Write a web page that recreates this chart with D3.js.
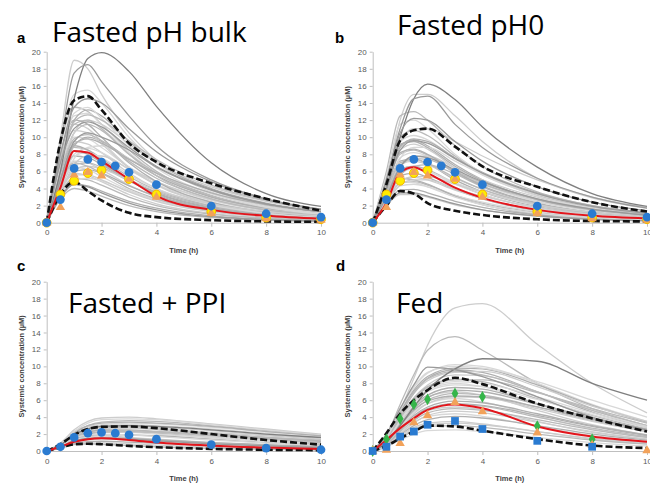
<!DOCTYPE html>
<html>
<head>
<meta charset="utf-8">
<script src="https://cdn.jsdelivr.net/npm/d3@7/dist/d3.min.js"></script>
<style>
  html, body { margin: 0; padding: 0; background: #fff; }
  svg { display: block; }
  .tick text { font-family: "Liberation Sans", Arial, sans-serif; font-size: 8px; fill: #595959; }
  .axis path, .axis line { stroke: #bfbfbf; }
  .axis-title { font-family: "Liberation Sans", Arial, sans-serif; font-weight: bold; font-size: 7.5px; fill: #404040; }
  .letter { font-family: "Liberation Sans", Arial, sans-serif; font-weight: bold; font-size: 15px; }
  .title { font-family: "Open Sans", sans-serif; font-size: 28px; fill: #000; }
</style>
</head>
<body>
<div id="chart"></div>
<script>
// simulated time grid (h), shared by every simulated curve
const T = [0, 0.5, 1, 1.5, 2, 3, 4, 6, 8, 10];

// ---- panel a: fasted pH bulk ----
const aMedian = [0, 4.1, 8.4, 8.2, 7.2, 5.1, 3.1, 1.5, 0.8, 0.45];
const aUpper  = [0, 9.5, 14.3, 14.8, 13.2, 9.3, 7.1, 4.6, 2.8, 1.4];
const aLower  = [0, 3.3, 4.8, 3.7, 2.6, 1.15, 0.65, 0.3, 0.15, 0.1];
const aDark = [
  [0, 6, 14.5, 19.2, 19.9, 17.7, 13.6, 7.0, 3.4, 1.9],
  [0, 9, 17.5, 18.5, 16.5, 12.5, 9.0, 5.0, 2.8, 1.6],
  [0, 8, 13.5, 14.5, 14.0, 11.0, 8.3, 4.8, 2.7, 1.5],
  [0, 5, 9.5, 10.5, 10.0, 8.5, 6.5, 3.8, 2.2, 1.3],
  [0, 3, 4.5, 4.2, 3.5, 2.3, 1.5, 0.7, 0.35, 0.2],
  [0, 7, 11, 11.8, 11.2, 8.8, 6.6, 3.9, 2.2, 1.3]
];
const aLight = [
  [0, 10, 19.0, 18.0, 15.0, 10.5, 7.3, 3.8, 2.0, 1.1],
  [0, 9, 13.5, 13.0, 11.5, 8.5, 6.0, 3.2, 1.7, 0.9],
  [0, 8, 12.5, 12.8, 11.5, 8.2, 5.8, 3.0, 1.6, 0.9],
  [0, 7, 12, 13.2, 12.5, 9.5, 7.0, 4.0, 2.3, 1.3],
  [0, 7.5, 11.5, 11, 9.5, 6.5, 4.5, 2.3, 1.2, 0.7],
  [0, 6, 10.5, 11.5, 10.8, 8.0, 5.8, 3.1, 1.7, 1.0],
  [0, 6.5, 10, 9.8, 8.8, 6.5, 4.8, 2.6, 1.4, 0.8],
  [0, 5, 9, 10, 9.5, 7.5, 5.5, 3.0, 1.7, 1.0],
  [0, 6, 9.5, 9.2, 8.2, 5.8, 4.0, 2.0, 1.0, 0.6],
  [0, 5.5, 8.8, 8.5, 7.5, 5.4, 3.8, 2.0, 1.1, 0.6],
  [0, 4.5, 8, 8.7, 8.2, 6.2, 4.5, 2.4, 1.3, 0.7],
  [0, 5, 7.8, 7.6, 6.8, 4.9, 3.4, 1.7, 0.9, 0.5],
  [0, 4.8, 7.2, 7.0, 6.2, 4.4, 3.0, 1.5, 0.8, 0.45],
  [0, 4, 6.8, 7.0, 6.5, 4.9, 3.6, 1.9, 1.0, 0.6],
  [0, 4.5, 6.5, 6.2, 5.4, 3.8, 2.6, 1.3, 0.7, 0.4],
  [0, 3.8, 6, 6.2, 5.8, 4.3, 3.1, 1.6, 0.9, 0.5],
  [0, 4, 5.8, 5.5, 4.8, 3.3, 2.2, 1.1, 0.55, 0.3],
  [0, 3.5, 5.2, 5.0, 4.4, 3.0, 2.0, 1.0, 0.5, 0.3],
  [0, 3.2, 5, 5.2, 4.9, 3.7, 2.7, 1.4, 0.75, 0.4],
  [0, 3, 4.5, 4.3, 3.7, 2.5, 1.7, 0.8, 0.4, 0.2],
  [0, 5.5, 10.5, 12.0, 11.5, 9.2, 7.0, 4.2, 2.5, 1.5],
  [0, 7, 11.5, 12, 11, 8, 5.5, 2.8, 1.5, 0.8],
  [0, 4, 7.5, 8.8, 9.0, 7.5, 5.8, 3.4, 2.0, 1.2],
  [0, 6, 9, 8.5, 7.4, 5.0, 3.3, 1.6, 0.8, 0.4],
  [0, 3.5, 6.8, 7.8, 7.8, 6.3, 4.8, 2.7, 1.5, 0.9],
  [0, 2.8, 4, 3.7, 3.1, 2.0, 1.3, 0.6, 0.3, 0.15],
  [0, 9, 15, 15.5, 14, 10, 7, 3.6, 1.9, 1.0],
  [0, 8, 12, 11.5, 10, 7, 4.8, 2.4, 1.2, 0.7],
  [0, 6.5, 10.8, 10.5, 9.2, 6.4, 4.4, 2.2, 1.1, 0.6],
  [0, 5.8, 9.8, 10.3, 9.6, 7.2, 5.2, 2.8, 1.5, 0.9],
  [0, 4.2, 7.8, 8.2, 7.6, 5.6, 4.0, 2.1, 1.1, 0.6],
  [0, 5.2, 8.4, 8.0, 7.0, 5.0, 3.5, 1.8, 0.9, 0.5],
  [0, 3.6, 6.2, 6.6, 6.3, 5.0, 3.8, 2.2, 1.3, 0.8],
  [0, 4.6, 7.0, 6.6, 5.8, 4.0, 2.8, 1.4, 0.7, 0.4],
  [0, 6.8, 12.8, 13.5, 12.2, 9.0, 6.4, 3.4, 1.8, 1.0],
  [0, 5, 9.2, 9.8, 9.3, 7.4, 5.8, 3.5, 2.1, 1.3],
  [0, 3.8, 5.6, 5.6, 5.0, 3.6, 2.5, 1.3, 0.7, 0.4],
  [0, 7.2, 11.8, 12.6, 12.0, 9.6, 7.4, 4.4, 2.6, 1.6]
];

// ---- panel b: fasted pH0 ----
const bMedian = [0, 2.3, 5.9, 6.5, 5.8, 4.1, 2.9, 1.5, 0.8, 0.5];
const bUpper  = [0, 4.5, 9.6, 10.8, 11.0, 8.9, 6.6, 4.2, 2.4, 1.3];
const bLower  = [0, 2.0, 3.7, 3.4, 2.3, 1.4, 0.9, 0.4, 0.2, 0.15];
const bDark = [
  [0, 4, 10, 14.5, 16.2, 14.4, 11.2, 6.5, 3.4, 1.9],
  [0, 5, 11, 14.5, 14.8, 11.5, 8.8, 5.2, 3.0, 1.7],
  [0, 5, 10.5, 12.2, 12.0, 9.5, 7.2, 4.2, 2.4, 1.4],
  [0, 3, 6.5, 7.8, 7.6, 6.2, 4.8, 2.8, 1.6, 0.9],
  [0, 2, 3.5, 3.5, 3.1, 2.2, 1.5, 0.8, 0.4, 0.25],
  [0, 4, 8.5, 9.6, 9.3, 7.5, 5.8, 3.4, 1.9, 1.1]
];
const bLight = [
  [0, 4.5, 12, 15.0, 15.0, 12.5, 9.5, 5.2, 2.9, 1.7],
  [0, 6, 12.5, 13.0, 12.0, 9.0, 6.6, 3.6, 2.0, 1.1],
  [0, 5, 9.5, 10.2, 9.7, 7.5, 5.6, 3.2, 1.8, 1.0],
  [0, 4.5, 9, 9.7, 9.0, 6.8, 5.0, 2.7, 1.5, 0.9],
  [0, 4, 8.5, 9.2, 8.6, 6.4, 4.6, 2.5, 1.4, 0.8],
  [0, 4, 8, 8.5, 7.9, 5.8, 4.2, 2.2, 1.2, 0.7],
  [0, 3.5, 7.6, 8.2, 7.8, 6.0, 4.5, 2.5, 1.4, 0.8],
  [0, 3.8, 7.2, 7.5, 6.9, 5.0, 3.6, 1.9, 1.0, 0.6],
  [0, 3.5, 6.8, 7.2, 6.8, 5.2, 3.9, 2.2, 1.2, 0.7],
  [0, 3.2, 6.2, 6.6, 6.2, 4.6, 3.3, 1.7, 0.9, 0.5],
  [0, 3, 5.8, 6.3, 6.0, 4.7, 3.6, 2.0, 1.1, 0.6],
  [0, 3, 5.5, 5.8, 5.3, 3.9, 2.8, 1.4, 0.8, 0.45],
  [0, 2.8, 5.0, 5.3, 5.0, 3.8, 2.8, 1.5, 0.85, 0.5],
  [0, 2.6, 4.6, 4.8, 4.4, 3.2, 2.3, 1.2, 0.65, 0.35],
  [0, 2.5, 4.3, 4.5, 4.2, 3.2, 2.4, 1.3, 0.7, 0.4],
  [0, 2.2, 3.8, 3.9, 3.5, 2.5, 1.8, 0.9, 0.5, 0.3],
  [0, 2, 3.3, 3.3, 3.0, 2.1, 1.5, 0.75, 0.4, 0.2],
  [0, 5, 10, 10.8, 10.2, 7.8, 5.8, 3.2, 1.8, 1.0],
  [0, 3.5, 7.5, 8.8, 8.8, 7.2, 5.6, 3.3, 1.9, 1.1],
  [0, 4, 8.8, 9.8, 9.5, 7.6, 5.9, 3.5, 2.0, 1.2],
  [0, 3, 6.5, 7.7, 7.8, 6.4, 5.0, 3.0, 1.7, 1.0],
  [0, 2.5, 5.5, 6.6, 6.8, 5.7, 4.5, 2.7, 1.6, 0.9],
  [0, 5.5, 11.5, 12.0, 11.0, 8.0, 5.8, 3.1, 1.7, 1.0],
  [0, 3, 5.2, 5.0, 4.5, 3.1, 2.1, 1.0, 0.5, 0.3],
  [0, 4.5, 9.5, 11.0, 11.0, 9.5, 7.8, 5.0, 3.0, 1.8],
  [0, 3.6, 7.0, 7.4, 6.9, 5.3, 3.9, 2.1, 1.1, 0.6],
  [0, 3.0, 6.0, 6.4, 6.0, 4.5, 3.3, 1.7, 0.9, 0.5],
  [0, 4.2, 8.2, 8.6, 8.0, 6.0, 4.3, 2.3, 1.2, 0.7],
  [0, 2.4, 4.8, 5.4, 5.4, 4.5, 3.6, 2.1, 1.2, 0.7],
  [0, 3.3, 6.6, 7.5, 7.4, 6.0, 4.7, 2.8, 1.6, 1.0],
  [0, 2.8, 4.8, 4.7, 4.2, 3.0, 2.1, 1.1, 0.6, 0.35],
  [0, 4.8, 9.2, 9.5, 8.8, 6.6, 4.9, 2.7, 1.5, 0.9],
  [0, 2.2, 4.4, 5.0, 5.0, 4.0, 3.1, 1.8, 1.0, 0.6]
];

// ---- panel c: fasted + PPI ----
const cMedian = [0, 0.5, 1.1, 1.4, 1.5, 1.3, 1.0, 0.63, 0.4, 0.24];
const cUpper  = [0, 0.8, 1.9, 2.6, 2.85, 2.9, 2.7, 2.0, 1.3, 0.75];
const cLower  = [0, 0.4, 0.8, 0.85, 0.8, 0.6, 0.45, 0.25, 0.15, 0.1];
const cDark = [
  [0, 0.7, 1.9, 2.6, 2.9, 3.0, 2.9, 2.5, 2.0, 1.6],
  [0, 0.5, 1.2, 1.5, 1.5, 1.4, 1.2, 0.85, 0.6, 0.4]
];
const cLight = [
  [0, 0.9, 2.5, 3.5, 3.9, 4.0, 3.8, 3.2, 2.6, 2.0],
  [0, 0.8, 2.2, 3.0, 3.4, 3.6, 3.5, 3.0, 2.4, 1.9],
  [0, 0.7, 1.9, 2.7, 3.0, 3.1, 3.0, 2.6, 2.1, 1.6],
  [0, 0.8, 2.0, 2.6, 2.8, 2.8, 2.6, 2.1, 1.6, 1.2],
  [0, 0.6, 1.7, 2.3, 2.6, 2.7, 2.6, 2.2, 1.8, 1.4],
  [0, 0.7, 1.8, 2.3, 2.4, 2.3, 2.1, 1.6, 1.2, 0.85],
  [0, 0.6, 1.5, 2.0, 2.2, 2.2, 2.0, 1.6, 1.2, 0.9],
  [0, 0.5, 1.4, 1.8, 1.9, 1.9, 1.8, 1.4, 1.0, 0.75],
  [0, 0.6, 1.4, 1.7, 1.8, 1.6, 1.4, 1.0, 0.7, 0.5],
  [0, 0.5, 1.2, 1.5, 1.6, 1.5, 1.3, 0.9, 0.65, 0.45],
  [0, 0.4, 1.0, 1.3, 1.4, 1.3, 1.1, 0.75, 0.5, 0.35],
  [0, 0.4, 0.9, 1.1, 1.15, 1.05, 0.9, 0.6, 0.4, 0.25],
  [0, 0.3, 0.75, 0.9, 0.95, 0.85, 0.7, 0.45, 0.3, 0.2],
  [0, 0.35, 0.8, 0.85, 0.8, 0.65, 0.5, 0.3, 0.2, 0.12],
  [0, 0.7, 2.0, 2.8, 3.1, 3.3, 3.2, 2.8, 2.3, 1.8],
  [0, 0.5, 1.6, 2.2, 2.5, 2.5, 2.3, 1.9, 1.5, 1.1],
  [0, 0.9, 2.3, 2.9, 3.0, 2.8, 2.5, 1.9, 1.4, 1.0],
  [0, 0.6, 1.6, 2.1, 2.3, 2.4, 2.3, 2.0, 1.6, 1.3],
  [0, 0.8, 2.3, 3.3, 3.7, 3.8, 3.7, 3.1, 2.5, 1.9],
  [0, 0.7, 2.1, 3.0, 3.3, 3.4, 3.3, 2.9, 2.3, 1.8],
  [0, 0.6, 1.8, 2.5, 2.8, 2.9, 2.8, 2.4, 1.9, 1.5],
  [0, 0.5, 1.4, 2.0, 2.2, 2.3, 2.2, 1.8, 1.4, 1.0],
  [0, 0.6, 1.5, 1.9, 2.0, 1.9, 1.7, 1.3, 0.95, 0.7],
  [0, 0.45, 1.1, 1.4, 1.5, 1.45, 1.3, 1.0, 0.75, 0.55]
];

// ---- panel d: fed ----
const dMedian = [0, 1.3, 2.7, 3.85, 4.85, 5.5, 5.05, 2.9, 1.7, 1.1];
const dUpper  = [0, 2.1, 4.4, 6.0, 7.2, 8.65, 7.9, 5.6, 3.85, 2.3];
const dLower  = [0, 0.6, 1.5, 2.3, 3.0, 2.9, 2.4, 1.4, 0.65, 0.35];
const dDark = [
  [0, 1.0, 3.0, 5.2, 7.2, 9.7, 10.9, 10.6, 8.0, 6.0],
  [0, 2.0, 5.0, 7.8, 9.9, 9.6, 8.8, 6.4, 4.0, 2.5]
];
const dLight = [
  [0, 1.5, 4.8, 8.6, 12.5, 16.9, 17.4, 12.6, 8.0, 4.5],
  [0, 1.8, 5.5, 9, 11.9, 13.5, 11.9, 8.0, 5.0, 3.0],
  [0, 1.8, 5, 7.5, 9.2, 10.2, 10.0, 8.0, 5.5, 3.5],
  [0, 1.5, 4.5, 7, 8.6, 9.6, 9.3, 7.0, 4.6, 2.8],
  [0, 1.2, 4, 6.3, 7.8, 9.0, 8.9, 7.0, 4.8, 3.0],
  [0, 1.3, 4, 6.2, 7.6, 8.5, 8.2, 6.2, 4.2, 2.6],
  [0, 1.2, 3.6, 5.8, 7.2, 8.0, 7.6, 5.6, 3.7, 2.3],
  [0, 1, 3.3, 5.3, 6.6, 7.5, 7.3, 5.6, 3.9, 2.5],
  [0, 1.1, 3.3, 5.2, 6.4, 7.0, 6.6, 4.8, 3.1, 1.9],
  [0, 0.9, 3, 4.8, 6.0, 6.8, 6.6, 5.2, 3.6, 2.3],
  [0, 1.0, 2.9, 4.6, 5.6, 6.2, 5.8, 4.1, 2.6, 1.6],
  [0, 0.8, 2.6, 4.2, 5.2, 5.9, 5.7, 4.4, 3.0, 1.9],
  [0, 0.9, 2.5, 3.9, 4.8, 5.2, 4.9, 3.5, 2.2, 1.4],
  [0, 0.7, 2.2, 3.6, 4.5, 5.0, 4.8, 3.7, 2.5, 1.6],
  [0, 0.8, 2.2, 3.4, 4.1, 4.4, 4.1, 2.9, 1.8, 1.1],
  [0, 0.6, 1.9, 3.0, 3.7, 4.1, 3.9, 3.0, 2.0, 1.3],
  [0, 0.7, 1.8, 2.8, 3.3, 3.5, 3.2, 2.3, 1.4, 0.9],
  [0, 0.5, 1.5, 2.4, 2.9, 3.0, 2.8, 2.0, 1.3, 0.8],
  [0, 0.5, 1.3, 2.0, 2.4, 2.5, 2.3, 1.6, 1.0, 0.6],
  [0, 1.6, 4.6, 7.2, 8.8, 9.8, 9.7, 7.8, 5.4, 3.4],
  [0, 1.4, 4.2, 6.8, 8.3, 9.3, 9.4, 7.6, 5.3, 3.5],
  [0, 1.2, 3.8, 6.0, 7.5, 8.4, 8.4, 6.9, 5.0, 3.3],
  [0, 1.0, 3.5, 5.6, 7.0, 7.8, 7.6, 6.1, 4.3, 2.8],
  [0, 0.8, 2.4, 4.0, 5.0, 5.6, 5.4, 4.2, 2.9, 1.8],
  [0, 0.5, 1.6, 2.6, 3.1, 3.3, 3.1, 2.3, 1.5, 1.0],
  [0, 1.3, 4.2, 6.8, 8.5, 9.4, 9.0, 7.0, 4.8, 3.0],
  [0, 1.1, 3.6, 5.8, 7.2, 8.2, 8.0, 6.4, 4.5, 2.9],
  [0, 0.9, 3.1, 5.0, 6.3, 7.2, 7.0, 5.5, 3.8, 2.4],
  [0, 0.8, 2.7, 4.4, 5.6, 6.4, 6.3, 5.0, 3.5, 2.3],
  [0, 0.7, 2.4, 3.9, 4.9, 5.5, 5.3, 4.0, 2.7, 1.7],
  [0, 1.5, 4.8, 7.6, 9.3, 10.0, 9.8, 8.2, 6.0, 4.0],
  [0, 1.0, 3.0, 4.8, 5.9, 6.5, 6.4, 5.2, 3.8, 2.5],
  [0, 0.6, 2.0, 3.3, 4.2, 4.7, 4.5, 3.4, 2.3, 1.4]
];

// ---- observed clinical data ----
const obsT11 = [0, 0.5, 1, 1.5, 2, 2.5, 3, 4, 6, 8, 10];
const obsT10 = [0, 0.5, 1, 1.5, 2, 3, 4, 6, 8, 10];
const obsT9  = [0, 0.5, 1, 1.5, 2, 3, 4, 6, 8];
const fastedBlue   = [0, 2.7, 6.35, 7.4, 7.1, 6.65, 5.9, 4.45, 1.95, 1.05, 0.65];
const fastedYellow = [0, 3.3, 4.9, 5.8, 6.15, 5.1, 3.3, 1.3, 0.6, 0.4];
const fastedOrange = [0, 1.8, 5.6, 5.9, 5.5, 5.1, 3.0, 1.1, 0.5, 0.3];
const ppiBlue      = [0, 0.5, 1.6, 2.1, 2.2, 2.1, 1.9, 1.4, 0.75, 0.35, 0.15];
const fedGreen     = [0, 1.4, 3.8, 5.5, 6.1, 6.8, 6.4, 2.95, 1.4];
const fedOrange    = [0, 0.1, 0.9, 3.35, 4.2, 5.75, 4.65, 2.15, 0.7, 0.05];
const fedBlue      = [0, 0.5, 1.7, 2.3, 3.1, 3.55, 2.6, 1.2, 0.5];

const yTicks = [0, 2, 4, 6, 8, 10, 12, 14, 16, 18, 20];
const xTicks = [0, 2, 4, 6, 8, 10];

const BLUE = "#2a7bd1", YELLOW = "#ffec00", ORANGE = "#f2a25a", GREEN = "#35b54a";
const LIGHTS = ["#cdcdcd", "#bababa", "#d8d8d8", "#b0b0b0"];

const panels = [
  { letter: "a", title: "Fasted pH bulk", x0: 46.7, x1: 321, y0: 222.7, y1: 51.7, letterXY: [17, 43], titleXY: [52, 42],
    light: aLight, dark: aDark, upper: aUpper, lower: aLower, median: aMedian,
    marks: [{t: obsT10, v: fastedYellow, shape: "yellow"}, {t: obsT10, v: fastedOrange, shape: "tri"}, {t: obsT11, v: fastedBlue, shape: "circle"}] },
  { letter: "b", title: "Fasted pH0", x0: 372.7, x1: 647, y0: 222.7, y1: 51.7, letterXY: [335, 43], titleXY: [397, 35],
    light: bLight, dark: bDark, upper: bUpper, lower: bLower, median: bMedian,
    marks: [{t: obsT10, v: fastedYellow, shape: "yellow"}, {t: obsT10, v: fastedOrange, shape: "tri"}, {t: obsT11, v: fastedBlue, shape: "circle"}] },
  { letter: "c", title: "Fasted + PPI", x0: 46.7, x1: 321, y0: 451, y1: 281.7, letterXY: [17, 271], titleXY: [68, 313],
    light: cLight, dark: cDark, upper: cUpper, lower: cLower, median: cMedian,
    marks: [{t: obsT11, v: ppiBlue, shape: "circle"}] },
  { letter: "d", title: "Fed", x0: 372.7, x1: 647, y0: 451, y1: 281.7, letterXY: [336, 271], titleXY: [396, 313],
    light: dLight, dark: dDark, upper: dUpper, lower: dLower, median: dMedian,
    marks: [{t: obsT9, v: fedGreen, shape: "diamond"}, {t: obsT10, v: fedOrange, shape: "tri"}, {t: obsT9, v: fedBlue, shape: "square"}] }
];

const svg = d3.select("#chart").append("svg").attr("width", 650).attr("height", 484);

panels.forEach(p => {
  const x = d3.scaleLinear().domain([0, 10]).range([p.x0, p.x1]);
  const y = d3.scaleLinear().domain([0, 20]).range([p.y0, p.y1]);
  const g = svg.append("g");
  const line = d3.line().x((d, i) => x(T[i])).y(d => y(d)).curve(d3.curveMonotoneX);

  // axes
  g.append("g").attr("class", "axis").attr("transform", `translate(0,${p.y0})`)
      .call(d3.axisBottom(x).tickValues(xTicks).tickSize(4).tickSizeOuter(0).tickPadding(3));
  g.append("g").attr("class", "axis").attr("transform", `translate(${p.x0},0)`)
      .call(d3.axisLeft(y).tickValues(yTicks).tickSize(3).tickSizeOuter(0).tickPadding(3));

  g.append("text").attr("class", "axis-title").attr("text-anchor", "middle")
      .attr("transform", `translate(${p.x0 - 23},${(p.y0 + p.y1) / 2}) rotate(-90)`)
      .text("Systemic concentration (µM)");
  g.append("text").attr("class", "axis-title").attr("text-anchor", "middle")
      .attr("x", (p.x0 + p.x1) / 2).attr("y", p.y0 + 30).text("Time (h)");

  // simulated individuals
  g.selectAll(".light").data(p.light).join("path").attr("class", "light")
      .attr("d", line).attr("fill", "none")
      .attr("stroke", (d, i) => LIGHTS[i % LIGHTS.length]).attr("stroke-width", 1.3);
  g.selectAll(".dark").data(p.dark).join("path").attr("class", "dark")
      .attr("d", line).attr("fill", "none")
      .attr("stroke", (d, i) => i === 0 ? "#7f7f7f" : "#9a9a9a").attr("stroke-width", 1.3);

  // percentiles and median
  [p.upper, p.lower].forEach(s => g.append("path").attr("d", line(s)).attr("fill", "none")
      .attr("stroke", "#111").attr("stroke-width", 2.6).attr("stroke-dasharray", "7,3"));
  g.append("path").attr("d", line(p.median)).attr("fill", "none")
      .attr("stroke", "#e3151c").attr("stroke-width", 2);

  // observed points
  p.marks.forEach(m => {
    const pts = m.v.map((v, i) => [x(m.t[i]), y(v)]);
    const sel = g.append("g").selectAll("path").data(pts).join("path")
        .attr("transform", d => `translate(${d[0]},${d[1]})`);
    if (m.shape === "circle") sel.attr("d", d3.symbol(d3.symbolCircle, 60)).attr("fill", BLUE);
    if (m.shape === "yellow") sel.attr("d", d3.symbol(d3.symbolCircle, 60)).attr("fill", YELLOW)
        .attr("stroke", "#f4b400").attr("stroke-width", 1);
    if (m.shape === "tri") sel.attr("d", d3.symbol(d3.symbolTriangle, 38)).attr("fill", ORANGE);
    if (m.shape === "diamond") sel.attr("d", d3.symbol(d3.symbolDiamond, 40)).attr("fill", GREEN);
    if (m.shape === "square") sel.attr("d", d3.symbol(d3.symbolSquare, 60)).attr("fill", BLUE);
  });

  g.append("text").attr("class", "letter").attr("x", p.letterXY[0]).attr("y", p.letterXY[1]).text(p.letter);
  g.append("text").attr("class", "title").attr("x", p.titleXY[0]).attr("y", p.titleXY[1]).text(p.title);
});
</script>
</body>
</html>
